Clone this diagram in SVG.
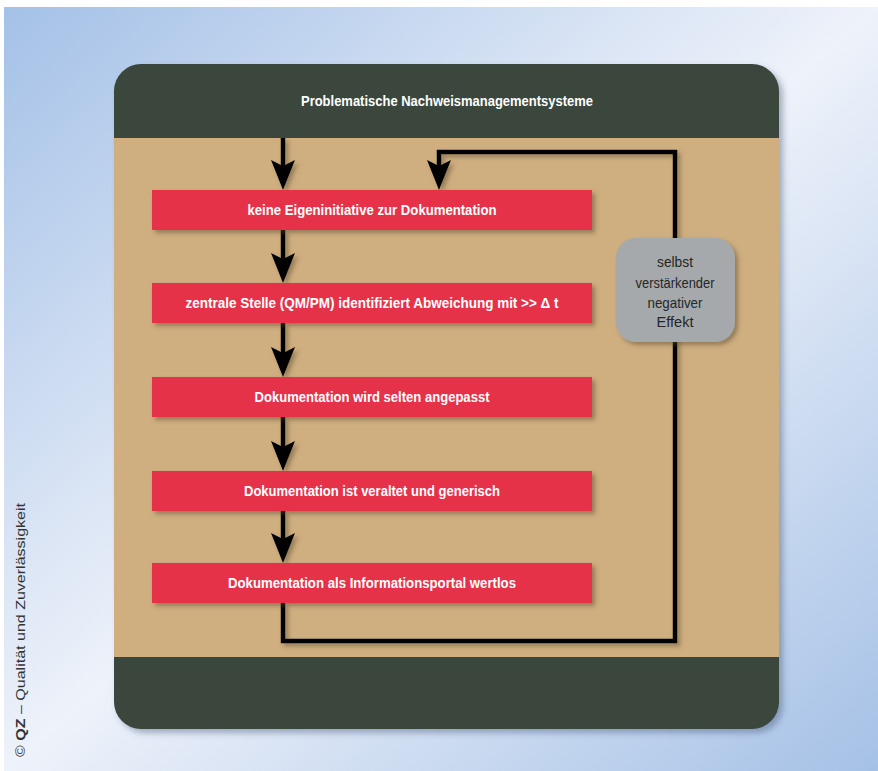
<svg xmlns="http://www.w3.org/2000/svg" width="878" height="771" viewBox="0 0 878 771">
<defs>
<linearGradient id="bg" x1="0" y1="0" x2="1" y2="1">
<stop offset="0" stop-color="#a4c1e7"/>
<stop offset="0.5" stop-color="#eef2fa"/>
<stop offset="1" stop-color="#a5c1e6"/>
</linearGradient>
<filter id="sh" x="-10%" y="-10%" width="130%" height="140%">
<feDropShadow dx="3" dy="3" stdDeviation="2" flood-color="#5a4a30" flood-opacity="0.5"/>
</filter>
<filter id="lsh" filterUnits="userSpaceOnUse" x="0" y="0" width="878" height="771">
<feDropShadow dx="3" dy="3" stdDeviation="2" flood-color="#5a4a30" flood-opacity="0.5"/>
</filter>
<filter id="psh" x="-5%" y="-5%" width="115%" height="115%">
<feDropShadow dx="4" dy="4" stdDeviation="3" flood-color="#4a5a78" flood-opacity="0.45"/>
</filter>
<marker id="ah" viewBox="0 0 30 24" refX="22" refY="12" markerWidth="30" markerHeight="24" markerUnits="userSpaceOnUse" orient="auto">
<path d="M0,0 L6,12 L0,24 L30,12 Z" fill="#000"/>
</marker>
<style>
.box{fill:#e5304a;filter:url(#sh)}
.lbl{font-family:"Liberation Sans","DejaVu Sans",sans-serif;font-weight:bold;font-size:15px;fill:#fff;text-anchor:middle}
.con{fill:none;stroke:#000;stroke-width:4.5}
.gl{font-family:"Liberation Sans","DejaVu Sans",sans-serif;font-size:15px;fill:#262626;text-anchor:middle}
</style>
</defs>
<rect x="0" y="0" width="878" height="771" fill="#ffffff"/>
<rect x="4" y="7" width="874" height="764" fill="url(#bg)"/>
<text transform="translate(24.5,757) rotate(-90)" font-family="'Liberation Sans',Arial,sans-serif" font-size="13" fill="#333" textLength="254" lengthAdjust="spacingAndGlyphs">© <tspan font-weight="bold">QZ</tspan> – Qualität und Zuverlässigkeit</text>
<g id="panel">
<rect x="114" y="64" width="665" height="665" rx="27" fill="#3a463c" filter="url(#psh)"/>
<rect x="114" y="138" width="665" height="519" fill="#cfae7f"/>
<text x="447" y="106" class="lbl" textLength="292" lengthAdjust="spacingAndGlyphs">Problematische Nachweismanagementsysteme</text>
</g>
<g id="connectors" filter="url(#lsh)">
<line class="con" x1="283" y1="138" x2="283" y2="182" marker-end="url(#ah)"/>
<line class="con" x1="283" y1="230" x2="283" y2="275" marker-end="url(#ah)"/>
<line class="con" x1="283" y1="323" x2="283" y2="369" marker-end="url(#ah)"/>
<line class="con" x1="283" y1="417" x2="283" y2="463" marker-end="url(#ah)"/>
<line class="con" x1="283" y1="511" x2="283" y2="555" marker-end="url(#ah)"/>
<polyline class="con" points="283,603 283,641 675,641 675,152 439,152 439,182" marker-end="url(#ah)"/>
</g>
<g id="n1"><rect class="box" x="152" y="190" width="440" height="40"/><text class="lbl" x="372" y="215" textLength="249" lengthAdjust="spacingAndGlyphs">keine Eigeninitiative zur Dokumentation</text></g>
<g id="n2"><rect class="box" x="152" y="283" width="440" height="40"/><text class="lbl" x="372" y="308" textLength="373" lengthAdjust="spacingAndGlyphs">zentrale Stelle (QM/PM) identifiziert Abweichung mit  &gt;&gt; Δ t</text></g>
<g id="n3"><rect class="box" x="152" y="377" width="440" height="40"/><text class="lbl" x="372" y="402" textLength="235" lengthAdjust="spacingAndGlyphs">Dokumentation wird selten angepasst</text></g>
<g id="n4"><rect class="box" x="152" y="471" width="440" height="40"/><text class="lbl" x="372" y="496" textLength="256" lengthAdjust="spacingAndGlyphs">Dokumentation ist veraltet und generisch</text></g>
<g id="n5"><rect class="box" x="152" y="563" width="440" height="40"/><text class="lbl" x="372" y="588" textLength="288" lengthAdjust="spacingAndGlyphs">Dokumentation als Informationsportal wertlos</text></g>
<g id="n6">
<rect x="616" y="238" width="119" height="104" rx="20" fill="#a5a9ab" filter="url(#sh)"/>
<text class="gl" x="675" y="267" textLength="36" lengthAdjust="spacingAndGlyphs">selbst</text>
<text class="gl" x="675" y="288" textLength="79" lengthAdjust="spacingAndGlyphs">verstärkender</text>
<text class="gl" x="675" y="308" textLength="55" lengthAdjust="spacingAndGlyphs">negativer</text>
<text class="gl" x="675" y="327" textLength="37" lengthAdjust="spacingAndGlyphs">Effekt</text>
</g>
</svg>
